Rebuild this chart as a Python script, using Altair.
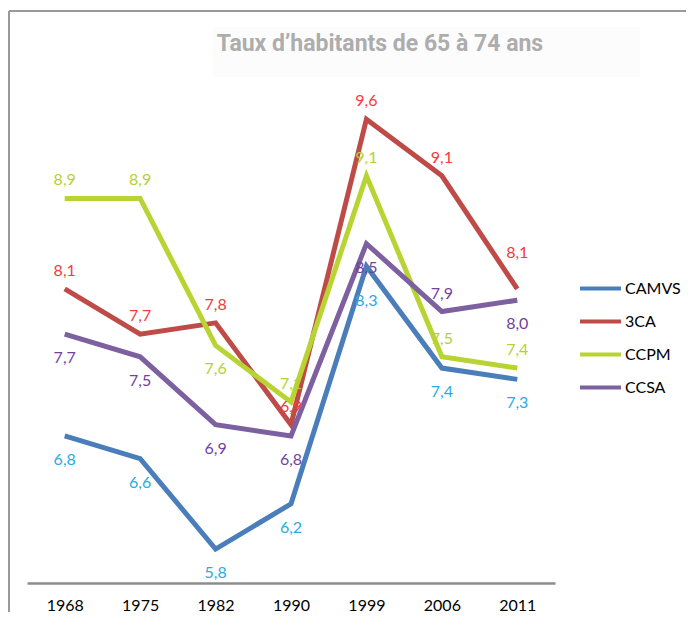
import altair as alt
import pandas as pd

# ---- data ----
years = ["1968", "1975", "1982", "1990", "1999", "2006", "2011"]
series = ["CAMVS", "3CA", "CCPM", "CCSA"]
camvs = [6.8, 6.6, 5.8, 6.2, 8.3, 7.4, 7.3]
ca3 = [8.1, 7.7, 7.8, 6.9, 9.6, 9.1, 8.1]
ccpm = [8.9, 8.9, 7.6, 7.1, 9.1, 7.5, 7.4]
ccsa = [7.7, 7.5, 6.9, 6.8, 8.5, 7.9, 8.0]

# where each data label sits relative to its point
camvs_pos = ["below", "below", "below", "below", "below far", "below", "below"]
ca3_pos = ["above", "above", "above", "above", "above", "above", "above far"]
ccpm_pos = ["above", "above", "below", "above", "above", "above", "above"]
ccsa_pos = ["below", "below", "below", "below", "below", "above", "below"]

line_colors = ["#4A7EBB", "#BE4B48", "#B8D432", "#7D60A0"]
label_colors = ["#29ABE2", "#F53A3A", "#B5D134", "#7042A0"]
title_text = "Taux d\u2019habitants de 65 \u00e0 74 ans"

rows = []
for s, vals, pos, lc in zip(series, [camvs, ca3, ccpm, ccsa],
                            [camvs_pos, ca3_pos, ccpm_pos, ccsa_pos], label_colors):
    for y, v, p in zip(years, vals, pos):
        rows.append({"year": y, "series": s, "value": v, "pos": p,
                     "lblcolor": lc, "label": f"{v:.1f}".replace(".", ",")})
df = pd.DataFrame(rows)

FONT = "Lato"
X0, Y0 = 27, 74  # plot origin on page (used for decoration only)

x_enc = alt.X("year:O", sort=years,
              scale=alt.Scale(type="point", padding=0.5),
              axis=alt.Axis(title=None, labelAngle=0, ticks=False, grid=False,
                            domainColor="#8C8C8C", domainWidth=2.5,
                            labelFont=FONT, labelFontSize=16, labelColor="#000000",
                            labelPadding=14))
y_enc = alt.Y("value:Q", scale=alt.Scale(domain=[5.5, 10]), axis=None)

base = alt.Chart(df)

lines = base.mark_line(strokeWidth=5).encode(
    x=x_enc, y=y_enc,
    color=alt.Color("series:N", sort=series,
                    scale=alt.Scale(domain=series, range=line_colors),
                    legend=alt.Legend(title=None, orient="none", legendX=551, legendY=192,
                                      symbolType="stroke", symbolStrokeWidth=4,
                                      symbolSize=1681, labelFont=FONT, labelFontSize=16,
                                      labelColor="#000000", labelOffset=2, rowPadding=2,
                                      padding=0)),
)


def labels(place, dy):
    return base.transform_filter(alt.datum.pos == place).mark_text(
        font=FONT, fontSize=16, dy=dy, baseline="middle", align="center").encode(
        x=x_enc, y=y_enc, text="label:N", color=alt.Color("lblcolor:N", scale=None))


one = pd.DataFrame({"t": [title_text]})
title_bg = alt.Chart(one).mark_rect(color="#FCFCFC").encode(
    x=alt.value(213 - X0), x2=alt.value(640 - X0),
    y=alt.value(27 - Y0), y2=alt.value(77 - Y0))
title = alt.Chart(one).mark_text(font="Roboto", fontWeight="bold", fontSize=23,
                                 color="#ADADAD", align="center",
                                 baseline="alphabetic").encode(
    x=alt.value(380 - X0), y=alt.value(51 - Y0), text="t:N")
frame_top = alt.Chart(one).mark_rule(color="#999999", strokeWidth=2).encode(
    x=alt.value(9 - X0), x2=alt.value(700 - X0), y=alt.value(11 - Y0))
frame_left = alt.Chart(one).mark_rule(color="#999999", strokeWidth=2).encode(
    x=alt.value(9 - X0), y=alt.value(11 - Y0), y2=alt.value(640 - Y0))

chart = alt.layer(
    frame_top, frame_left, title_bg, title, lines,
    labels("above", -18), labels("above far", -36),
    labels("below", 24), labels("below far", 35),
).resolve_scale(
    color="independent"
).properties(
    width=528, height=509,
    padding={"left": 19, "top": 66, "right": 131, "bottom": 29},
    autosize=alt.AutoSizeParams(type="none"),
).configure_view(stroke=None)

chart.save("out.html", embed_options={"renderer": "svg", "actions": False})
